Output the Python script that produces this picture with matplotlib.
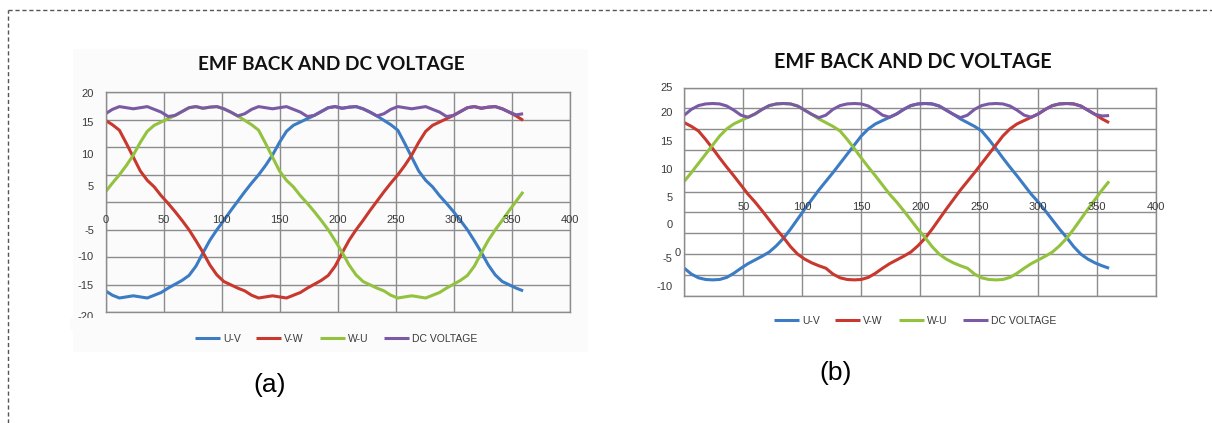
import numpy as np
import matplotlib
matplotlib.use('Agg')
import matplotlib.pyplot as plt
from matplotlib.lines import Line2D
from matplotlib.patches import Rectangle

# 角度 (度), 每 6 度一个点
angles = np.arange(0, 361, 6)

# ---- 图 (a) 数据 ----
uv_a = [-16.1, -16.9, -17.4, -17.2, -17.0, -17.2, -17.4, -16.9, -16.4, -15.6,
        -14.9, -14.2, -13.3, -11.6, -9.2, -6.9, -5.0, -3.3, -1.5, 0.2,
        1.9, 3.5, 5.0, 6.7, 8.6, 10.9, 12.9, 14.0, 14.6, 15.2,
        15.8, 16.5, 17.2, 17.4, 17.1, 17.3, 17.4, 17.0, 16.4, 15.7,
        14.9, 14.1, 13.1, 10.7, 8.2, 5.7, 4.0, 2.8, 1.2, -0.2,
        -1.7, -3.3, -5.0, -7.0, -9.1, -11.4, -13.2, -14.4, -15.0, -15.6,
        -16.1]
vw_a = [14.9, 14.1, 13.1, 10.7, 8.2, 5.7, 4.0, 2.8, 1.2, -0.2,
        -1.7, -3.3, -5.0, -7.0, -9.1, -11.4, -13.2, -14.4, -15.0, -15.6,
        -16.1, -16.9, -17.4, -17.2, -17.0, -17.2, -17.4, -16.9, -16.4, -15.6,
        -14.9, -14.2, -13.3, -11.6, -9.2, -6.9, -5.0, -3.3, -1.5, 0.2,
        1.9, 3.5, 5.0, 6.7, 8.6, 10.9, 12.9, 14.0, 14.6, 15.2,
        15.8, 16.5, 17.2, 17.4, 17.1, 17.3, 17.4, 17.0, 16.4, 15.7,
        14.9]
wu_a = [1.9, 3.5, 5.0, 6.7, 8.6, 10.9, 12.9, 14.0, 14.6, 15.2,
        15.8, 16.5, 17.2, 17.4, 17.1, 17.3, 17.4, 17.0, 16.4, 15.7,
        14.9, 14.1, 13.1, 10.7, 8.2, 5.7, 4.0, 2.8, 1.2, -0.2,
        -1.7, -3.3, -5.0, -7.0, -9.1, -11.4, -13.2, -14.4, -15.0, -15.6,
        -16.1, -16.9, -17.4, -17.2, -17.0, -17.2, -17.4, -16.9, -16.4, -15.6,
        -14.9, -14.2, -13.3, -11.6, -9.2, -6.9, -5.0, -3.3, -1.5, 0.2,
        1.9]
dc_a = [16.1, 16.9, 17.4, 17.2, 17.0, 17.2, 17.4, 16.9, 16.4, 15.6,
        15.8, 16.5, 17.2, 17.4, 17.1, 17.3, 17.4, 17.0, 16.4, 15.7,
        16.1, 16.9, 17.4, 17.2, 17.0, 17.2, 17.4, 16.9, 16.4, 15.6,
        15.8, 16.5, 17.2, 17.4, 17.1, 17.3, 17.4, 17.0, 16.4, 15.7,
        16.1, 16.9, 17.4, 17.2, 17.0, 17.2, 17.4, 16.9, 16.4, 15.6,
        15.8, 16.5, 17.2, 17.4, 17.1, 17.3, 17.4, 17.0, 16.4, 15.9,
        16.1]

# ---- 图 (b) 数据 ----
uv_b = [-18.4, -19.8, -20.7, -21.1, -21.2, -21.1, -20.6, -19.6, -18.4, -17.3,
        -16.4, -15.5, -14.5, -13.0, -11.2, -9.0, -6.6, -4.2, -1.9, 0.4,
        2.5, 4.6, 6.8, 9.0, 11.2, 13.4, 15.1, 16.3, 17.1, 17.9,
        18.7, 19.8, 20.7, 21.1, 21.2, 21.1, 20.6, 19.6, 18.6, 17.5,
        16.6, 15.7, 14.6, 12.6, 10.4, 8.1, 5.9, 3.8, 1.6, -0.6,
        -2.5, -4.6, -6.8, -9.0, -11.0, -13.2, -15.0, -16.2, -17.1, -17.8,
        -18.4]
vw_b = [16.6, 15.7, 14.6, 12.6, 10.4, 8.1, 5.9, 3.8, 1.6, -0.6,
        -2.5, -4.6, -6.8, -9.0, -11.0, -13.2, -15.0, -16.2, -17.1, -17.8,
        -18.4, -19.8, -20.7, -21.1, -21.2, -21.1, -20.6, -19.6, -18.4, -17.3,
        -16.4, -15.5, -14.5, -13.0, -11.2, -9.0, -6.6, -4.2, -1.9, 0.4,
        2.5, 4.6, 6.8, 9.0, 11.2, 13.4, 15.1, 16.3, 17.1, 17.9,
        18.7, 19.8, 20.7, 21.1, 21.2, 21.1, 20.6, 19.6, 18.6, 17.5,
        16.6]
wu_b = [2.5, 4.6, 6.8, 9.0, 11.2, 13.4, 15.1, 16.3, 17.1, 17.9,
        18.7, 19.8, 20.7, 21.1, 21.2, 21.1, 20.6, 19.6, 18.6, 17.5,
        16.6, 15.7, 14.6, 12.6, 10.4, 8.1, 5.9, 3.8, 1.6, -0.6,
        -2.5, -4.6, -6.8, -9.0, -11.0, -13.2, -15.0, -16.2, -17.1, -17.8,
        -18.4, -19.8, -20.7, -21.1, -21.2, -21.1, -20.6, -19.6, -18.4, -17.3,
        -16.4, -15.5, -14.5, -13.0, -11.2, -9.0, -6.6, -4.2, -1.9, 0.4,
        2.5]
dc_b = [18.4, 19.8, 20.7, 21.1, 21.2, 21.1, 20.6, 19.6, 18.4, 17.9,
        18.7, 19.8, 20.7, 21.1, 21.2, 21.1, 20.6, 19.6, 18.6, 17.8,
        18.4, 19.8, 20.7, 21.1, 21.2, 21.1, 20.6, 19.6, 18.4, 17.9,
        18.7, 19.8, 20.7, 21.1, 21.2, 21.1, 20.6, 19.6, 18.6, 17.8,
        18.4, 19.8, 20.7, 21.1, 21.2, 21.1, 20.6, 19.6, 18.4, 17.9,
        18.7, 19.8, 20.7, 21.1, 21.2, 21.1, 20.6, 19.6, 18.6, 18.2,
        18.3]

series_names = ['U-V', 'V-W', 'W-U', 'DC VOLTAGE']
title_text = 'EMF BACK AND DC VOLTAGE'
x_tick_labels = ['0', '50', '100', '150', '200', '250', '300', '350', '400']
y_labels_a = ['20', '15', '10', '5', '-5', '-10', '-15', '-20']
y_labels_b = ['25', '20', '15', '10', '5', '0', '-5', '-10']

# ---- 样式 ----
colors = ['#3b7cc4', '#c8382e', '#93c23f', '#7a5aa5']
grid_color = '#8c8c8c'
label_color = '#3a3a3a'
tick_font = 'Liberation Sans'
bg_a = '#fbfbfb'

W, H = 1212, 423
fig = plt.figure(figsize=(W / 100, H / 100), dpi=100)


def px_box(x0, y0, x1, y1):
    """像素坐标(左上为原点) -> figure 比例"""
    return [x0 / W, 1 - y1 / H, (x1 - x0) / W, (y1 - y0) / H]


# 外框虚线
fig.add_artist(Line2D([8 / W, 1], [1 - 10.5 / H] * 2, transform=fig.transFigure,
                      color='#555555', lw=1, ls=(0, (3, 2))))
fig.add_artist(Line2D([8 / W] * 2, [0, 1 - 10.5 / H], transform=fig.transFigure,
                      color='#555555', lw=1, ls=(0, (3, 2))))

# 图 (a) 的图表区背景
bx = px_box(73, 49, 588, 352)
fig.add_artist(Rectangle((bx[0], bx[1]), bx[2], bx[3], transform=fig.transFigure,
                         facecolor=bg_a, edgecolor='none', zorder=-1))


def make_panel(box, ylim, series, y_label_pos, y_labels, x_label_y, x_labels):
    ax = fig.add_axes(px_box(*box))
    ax.set_facecolor('none')
    ax.set_xlim(0, 400)
    ax.set_ylim(*ylim)
    ax.set_xticks(np.arange(0, 401, 50))
    ax.set_yticks(np.arange(ylim[0], ylim[1] + 1, 5))
    ax.grid(True, color=grid_color, lw=1)
    ax.tick_params(length=0, labelbottom=False, labelleft=False)
    for sp in ax.spines.values():
        sp.set_color(grid_color)
        sp.set_linewidth(1)
    for vals, c, name in zip(series, colors, series_names):
        ax.plot(angles, vals, color=c, lw=2.2, label=name,
                solid_joinstyle='round', solid_capstyle='butt')
    # y 轴标签 (原图中位置有偏移)
    for yv, lab in zip(y_label_pos, y_labels):
        ax.text(-0.025, yv, lab, transform=ax.get_yaxis_transform(), ha='right',
                va='center', fontsize=8, family=tick_font, color=label_color)
    for xv, lab in zip(np.arange(0, 401, 50), x_labels):
        if lab:
            ax.text(xv, x_label_y, lab, ha='center', va='center', fontsize=8,
                    family=tick_font, color=label_color)
    return ax


ax_a = make_panel((105.5, 92.3, 569.5, 312.3), (-20, 20),
                  [uv_a, vw_a, wu_a, dc_a],
                  [19.7, 14.4, 8.6, 2.7, -5.2, -10.0, -15.3, -20.8], y_labels_a,
                  -3.3, x_tick_labels)
ax_b = make_panel((684.3, 87.7, 1156.3, 295.7), (-25, 25),
                  [uv_b, vw_b, wu_b, dc_b],
                  [24.9, 18.9, 12.0, 5.2, -1.45, -8.1, -16.1, -22.8], y_labels_b,
                  -3.75, [''] + x_tick_labels[1:])
# 图 (b) 左下方多出的 "0"
ax_b.text(-5.3, -14.8, '0', ha='center', va='center', fontsize=8,
          family=tick_font, color=label_color)

# 图 (a) 的 "-20" 只露出上半部分
cx = px_box(70, 317.5, 102, 330)
fig.add_artist(Rectangle((cx[0], cx[1]), cx[2], cx[3], transform=fig.transFigure,
                         facecolor=bg_a, edgecolor='none', zorder=5))

# 标题
for cx_px, cy_px, target_w in [(331, 64, 267), (913, 62.5, 277)]:
    t = fig.text(cx_px / W, 1 - cy_px / H, title_text, ha='center', va='center',
                 fontsize=13, fontweight='bold', family='Lato', color='#111111')
    fig.canvas.draw()
    w = t.get_window_extent().width
    t.set_fontsize(13 * target_w / w)

# 图例
for ax, cx_px, cy_px in [(ax_a, 336, 339), (ax_b, 915, 321)]:
    ax.legend(loc='center', bbox_to_anchor=(cx_px / W, 1 - cy_px / H),
              bbox_transform=fig.transFigure, ncol=4, frameon=False,
              prop={'family': tick_font, 'size': 7.5},
              handlelength=2.4, handletextpad=0.3, columnspacing=1.5,
              labelcolor=label_color)

# 子图编号
fig.text(270 / W, 1 - 385 / H, '(a)', ha='center', va='center', fontsize=19,
         family='Liberation Sans', color='#000000')
fig.text(836 / W, 1 - 373 / H, '(b)', ha='center', va='center', fontsize=19,
         family='Liberation Sans', color='#000000')

fig.savefig('out.png', dpi=100)
